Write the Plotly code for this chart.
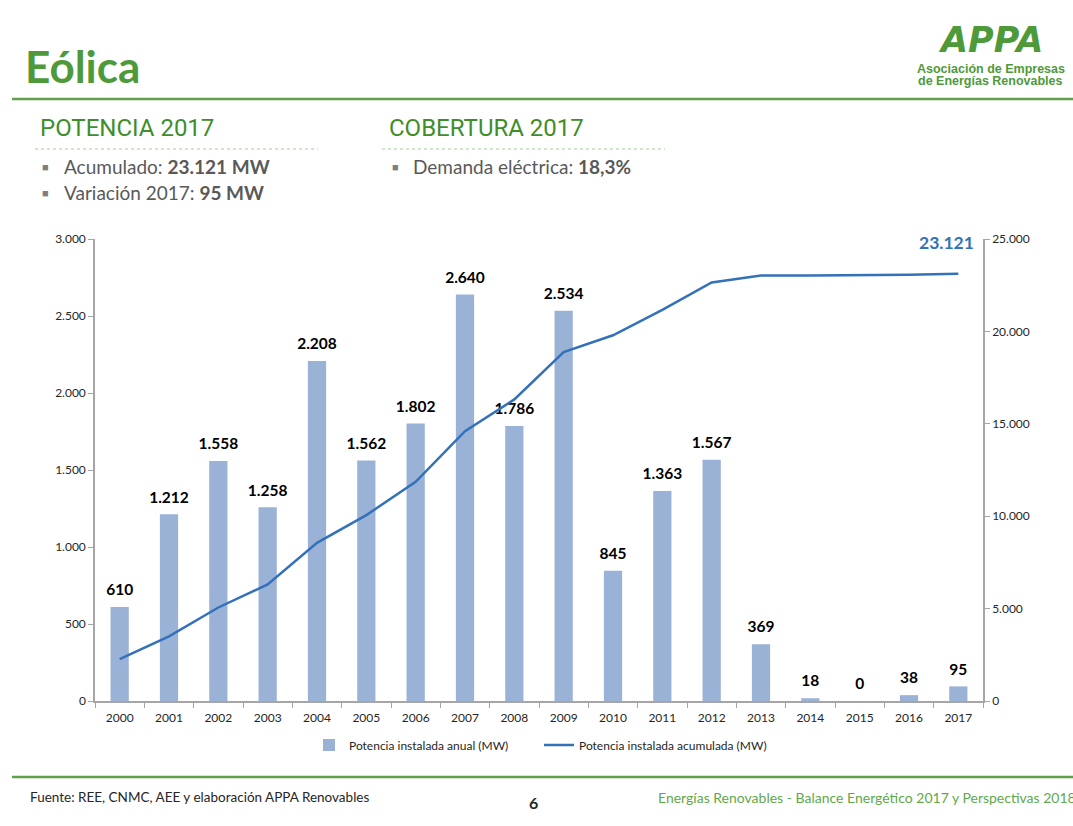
import plotly.graph_objects as go

years = ["2000", "2001", "2002", "2003", "2004", "2005", "2006", "2007", "2008",
         "2009", "2010", "2011", "2012", "2013", "2014", "2015", "2016", "2017"]
annual_mw = [610, 1212, 1558, 1258, 2208, 1562, 1802, 2640, 1786,
             2534, 845, 1363, 1567, 369, 18, 0, 38, 95]
cumulative_mw = [2270, 3500, 5060, 6310, 8560, 10060, 11860, 14600, 16320,
                 18880, 19790, 21170, 22650, 23030, 23030, 23030, 23060, 23121]
left_ticks = [0, 500, 1000, 1500, 2000, 2500, 3000]
right_ticks = [0, 5000, 10000, 15000, 20000, 25000]

W, H = 1073, 826
L, R, T, B = 95, 983, 239, 701


def px(x):
    return (x - L) / (R - L)


def py(y):
    return (B - y) / (B - T)


GREEN = "#4E9A3A"
GREEN_H = "#3E8E2A"
GREY_TXT = "#595959"
BAR = "#9BB2D7"
LINE = "#3371B8"
BODY = "Lato, Open Sans, sans-serif"

fig = go.Figure()
fig.add_trace(go.Bar(
    x=years, y=annual_mw, name="Potencia instalada anual (MW)",
    marker=dict(color=BAR, line=dict(width=0)), width=0.37,
    yaxis="y",
))
fig.add_trace(go.Scatter(
    x=years, y=cumulative_mw, name="Potencia instalada acumulada (MW)",
    mode="lines", line=dict(color=LINE, width=2.5), yaxis="y2",
))
# bar value labels
fig.add_trace(go.Scatter(
    x=years, y=annual_mw, mode="markers+text", showlegend=False, hoverinfo="skip",
    marker=dict(size=11, opacity=0), texttemplate="<b>%{y:,d}</b>",
    textposition="top center", cliponaxis=False,
    textfont=dict(family=BODY, size=15.5, color="#000000"), yaxis="y",
))

fig.add_annotation(x=len(years) - 1, y=cumulative_mw[-1], xref="x", yref="y2",
                   text="<b>%s</b>" % f"{cumulative_mw[-1]:,}".replace(",", "."),
                   showarrow=False, xanchor="right", yanchor="bottom",
                   xshift=18, yshift=19,
                   font=dict(family=BODY, size=17.5, color=LINE))

axis_common = dict(showgrid=False, zeroline=False, showline=True,
                   linecolor="#A6A6A6", linewidth=1.5, ticks="outside",
                   tickcolor="#A6A6A6", ticklen=5,
                   tickfont=dict(family=BODY, size=12, color="#262626"))

fig.update_layout(
    width=W, height=H, autosize=False,
    margin=dict(l=L, r=W - R, t=T, b=H - B, pad=0),
    paper_bgcolor="white", plot_bgcolor="white",
    separators=",.",
    bargap=0.6,
    xaxis=dict(type="category", tickson="boundaries", range=[-0.5, len(years) - 0.5],
               tickangle=0, ticklabelstandoff=5, **axis_common),
    yaxis=dict(range=[0, 3000], tickvals=left_ticks, tickformat=",d", **axis_common),
    yaxis2=dict(range=[0, 25000], tickvals=right_ticks, tickformat=",d",
                overlaying="y", side="right", **axis_common),
    showlegend=True,
    legend=dict(orientation="h", x=px(539), xanchor="center", y=py(745), yanchor="middle",
                font=dict(family=BODY, size=12, color="#262626"),
                itemwidth=30, tracegroupgap=0, entrywidth=185),
)

shapes = [
    dict(type="line", xref="paper", yref="paper", x0=px(12), x1=px(1073),
         y0=py(99), y1=py(99), line=dict(color="#5FA04A", width=2.5)),
    dict(type="line", xref="paper", yref="paper", x0=px(12), x1=px(1073),
         y0=py(777), y1=py(777), line=dict(color="#5FA04A", width=2.5)),
    dict(type="line", xref="paper", yref="paper", x0=px(35), x1=px(318),
         y0=py(149), y1=py(149), line=dict(color="#A8CC98", width=1, dash="dot")),
    dict(type="line", xref="paper", yref="paper", x0=px(382), x1=px(665),
         y0=py(149), y1=py(149), line=dict(color="#A8CC98", width=1, dash="dot")),
]
fig.update_layout(shapes=shapes)


def text(x, y, s, size, color, family=BODY, xanchor="left", yanchor="middle"):
    fig.add_annotation(x=px(x), y=py(y), xref="paper", yref="paper", text=s,
                       showarrow=False, xanchor=xanchor, yanchor=yanchor,
                       font=dict(family=family, size=size, color=color))


text(23, 66, "<b>Eólica</b>", 44, GREEN)
# logo
text(991, 62, "<b><i>APPA</i></b>", 35, GREEN, family="DejaVu Sans, sans-serif",
     xanchor="center", yanchor="bottom")
text(991, 69, "<b>Asociación de Empresas</b>", 12.5, GREEN, family="Liberation Sans, Arial", xanchor="center")
text(991, 81, "<b>de Energías Renovables</b>", 12.5, GREEN, family="Liberation Sans, Arial", xanchor="center")

HEAD = "Roboto, sans-serif"
text(38, 128, "POTENCIA 2017", 24, GREEN_H, family=HEAD)
text(387, 128, "COBERTURA 2017", 24, GREEN_H, family=HEAD)

text(40, 166, "■", 11, "#7F7F7F")
text(62, 166, "Acumulado: <b>23.121 MW</b>", 19, GREY_TXT)
text(40, 193, "■", 11, "#7F7F7F")
text(62, 193, "Variación 2017: <b>95 MW</b>", 19, GREY_TXT)
text(390, 166, "■", 11, "#7F7F7F")
text(411, 166, "Demanda eléctrica: <b>18,3%</b>", 19, GREY_TXT)

text(28, 797, "Fuente: REE, CNMC, AEE y elaboración APPA Renovables", 13.5, "#262626")
text(533, 802, "<b>6</b>", 16, "#262626", xanchor="center")
text(656, 797, "Energías Renovables - Balance Energético 2017 y Perspectivas 2018", 14, "#5FA84A")

fig.write_html("out.html")
